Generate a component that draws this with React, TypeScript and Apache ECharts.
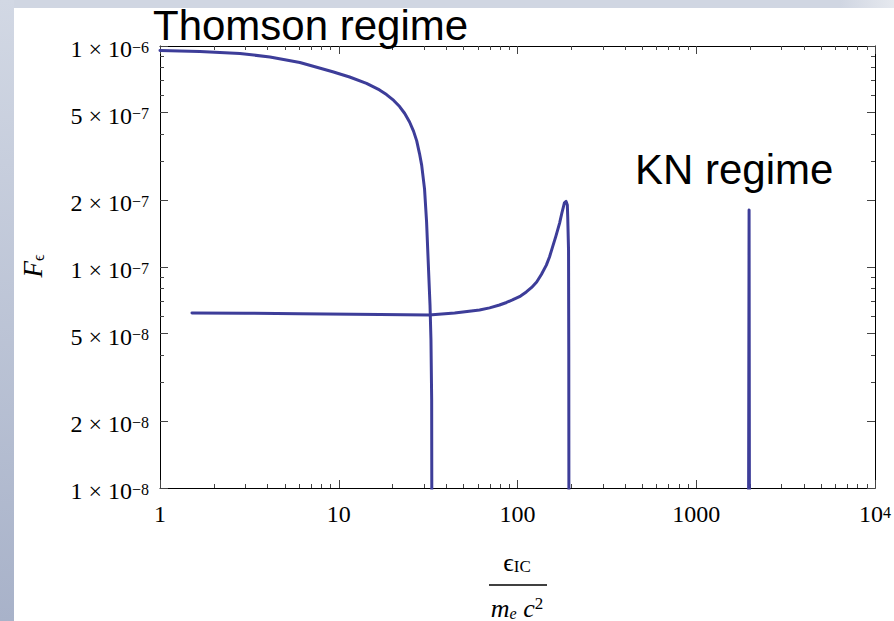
import React, { useEffect, useRef } from 'react';
import * as echarts from 'echarts';

// ---- data ----
const thomsonX = [1, 1.67, 2.8, 4.12, 6.06, 9.25, 11.5, 14.3, 16.9, 18.5, 20.3, 21.9, 23.4, 24.9, 26.2, 27.3, 28.3, 29.1, 30.2, 31.0, 31.8, 32.4, 32.8, 33.1, 33.2];
const thomsonY = [9.54e-7, 9.44e-7, 9.25e-7, 8.92e-7, 8.42e-7, 7.65e-7, 7.24e-7, 6.78e-7, 6.33e-7, 6.03e-7, 5.67e-7, 5.32e-7, 4.95e-7, 4.53e-7, 4.12e-7, 3.72e-7, 3.26e-7, 2.89e-7, 2.25e-7, 1.6e-7, 9.69e-8, 6.73e-8, 4.67e-8, 2.5e-8, 5e-9];

const peakX = [1.51, 3, 6, 17, 32, 44.5, 61.3, 69.8, 79.3, 86.8, 93.7, 104, 112, 120, 128, 136, 145, 151, 157, 164, 172, 177, 183, 187, 190, 191, 193, 193.6, 194];
const peakY = [6.2e-8, 6.18e-8, 6.15e-8, 6.1e-8, 6.07e-8, 6.19e-8, 6.39e-8, 6.53e-8, 6.73e-8, 6.91e-8, 7.1e-8, 7.39e-8, 7.71e-8, 8.08e-8, 8.55e-8, 9.25e-8, 1.02e-7, 1.11e-7, 1.23e-7, 1.38e-7, 1.58e-7, 1.75e-7, 1.95e-7, 1.98e-7, 1.91e-7, 1.68e-7, 1.19e-7, 4.2e-8, 5e-9];

const knX = [1960, 1975, 1985];
const knY = [5e-9, 1.81e-7, 5e-9];

const xTickValues = [1, 10, 100, 1000, 10000];
const xTickLabels = ['{b|1}', '{b|10}', '{b|100}', '{b|1000}', '{b|10}{s|4}'];
const xMinorTicks = [2, 3, 4, 5, 6, 7, 8, 9, 20, 30, 40, 50, 60, 70, 80, 90, 200, 300, 400, 500, 600, 700, 800, 900, 2000, 3000, 4000, 5000, 6000, 7000, 8000, 9000];

const yTickValues = [1e-8, 2e-8, 5e-8, 1e-7, 2e-7, 5e-7, 1e-6];
const yTickLabels = ['{b|1 × 10}{s|−8}', '{b|2 × 10}{s|−8}', '{b|5 × 10}{s|−8}', '{b|1 × 10}{s|−7}', '{b|2 × 10}{s|−7}', '{b|5 × 10}{s|−7}', '{b|1 × 10}{s|−6}'];
const yMinorTicks = [3e-8, 4e-8, 6e-8, 7e-8, 8e-8, 9e-8, 3e-7, 4e-7, 6e-7, 7e-7, 8e-7, 9e-7];

const SERIF = "'Liberation Serif', 'DejaVu Serif', serif";
const SANS = "'Liberation Sans', Arial, sans-serif";
const LINE_COLOR = '#3d3d99';

const pick = (values: number[], labels: string[]) => (v: number) => {
  let best = 0;
  let bd = Infinity;
  values.forEach((t, i) => {
    const d = Math.abs(Math.log10(t) - Math.log10(v));
    if (d < bd) { bd = d; best = i; }
  });
  return labels[best];
};

const tickRich = {
  b: { fontFamily: SERIF, fontSize: 24, color: '#000', lineHeight: 26, padding: [6, 0, 0, 0] },
  s: { fontFamily: SERIF, fontSize: 16, color: '#000', lineHeight: 16, padding: [6, 0, 0, 0], verticalAlign: 'top' },
};

function makeAxis(kind: 'x' | 'y', position: string, major: boolean, line: boolean, labels: boolean) {
  const isX = kind === 'x';
  const min = isX ? 1 : 1e-8;
  const max = isX ? 10000 : 1e-6;
  const vals = isX ? xTickValues : yTickValues;
  const minor = isX ? xMinorTicks : yMinorTicks;
  return {
    type: 'log',
    logBase: 10,
    min,
    max,
    position,
    gridIndex: 0,
    axisLine: { show: line, onZero: false, lineStyle: { color: '#000', width: 1 } },
    axisTick: {
      show: true,
      inside: true,
      length: major ? 8 : 4,
      customValues: major ? vals : minor,
      lineStyle: { color: '#444', width: 1 },
    },
    axisLabel: labels
      ? {
          show: true,
          customValues: vals,
          margin: isX ? 10 : 11,
          formatter: pick(vals, isX ? xTickLabels : yTickLabels),
          rich: tickRich,
          showMinLabel: true,
          showMaxLabel: true,
        }
      : { show: false },
    splitLine: { show: false },
    minorTick: { show: false },
    minorSplitLine: { show: false },
  };
}

const zip = (xs: number[], ys: number[]) => xs.map((x, i) => [x, ys[i]]);

export default function App() {
  const ref = useRef<HTMLDivElement>(null);
  useEffect(() => {
    document.body.style.margin = '0';
    const chart = echarts.init(ref.current!, null, { renderer: 'svg' });
    const lineSeries = (name: string, data: number[][]) => ({
      name,
      type: 'line',
      xAxisIndex: 0,
      yAxisIndex: 0,
      data,
      showSymbol: false,
      symbol: 'none',
      clip: true,
      lineStyle: { color: LINE_COLOR, width: 3, join: 'round', cap: 'round' },
      itemStyle: { color: LINE_COLOR },
      z: 5,
    });
    chart.setOption({
      animation: false,
      backgroundColor: '#fff',
      grid: { left: 160, top: 46, right: 18, bottom: 133, containLabel: false },
      xAxis: [
        makeAxis('x', 'bottom', true, true, true),
        makeAxis('x', 'bottom', false, false, false),
        makeAxis('x', 'top', true, true, false),
        makeAxis('x', 'top', false, false, false),
      ],
      yAxis: [
        makeAxis('y', 'left', true, true, true),
        makeAxis('y', 'left', false, false, false),
        makeAxis('y', 'right', true, true, false),
        makeAxis('y', 'right', false, false, false),
      ],
      series: [
        lineSeries('Thomson', zip(thomsonX, thomsonY)),
        lineSeries('Peak', zip(peakX, peakY)),
        lineSeries('KN', zip(knX, knY)),
      ],
      graphic: [
        {
          type: 'rect', z: 0, shape: { x: 0, y: 0, width: 894, height: 8 },
          style: {
            fill: new echarts.graphic.LinearGradient(0, 0, 1, 0, [
              { offset: 0, color: '#d0d6e2' },
              { offset: 0.94, color: '#d0d6e2' },
              { offset: 1, color: '#e6e9ef' },
            ]),
          },
        },
        {
          type: 'rect', z: 0, shape: { x: 0, y: 0, width: 14, height: 621 },
          style: {
            fill: new echarts.graphic.LinearGradient(0, 0, 0, 1, [
              { offset: 0, color: '#d2d8e4' },
              { offset: 1, color: '#a8b2c9' },
            ]),
          },
        },
        {
          type: 'text', z: 100, x: 153, y: 25,
          style: { text: 'Thomson regime', font: `42px ${SANS}`, fill: '#000', align: 'left', verticalAlign: 'middle' },
        },
        {
          type: 'text', z: 100, x: 635, y: 169,
          style: { text: 'KN regime', font: `42px ${SANS}`, fill: '#000', align: 'left', verticalAlign: 'middle' },
        },
        {
          type: 'text', z: 100, x: 33, y: 266, rotation: Math.PI / 2,
          style: {
            text: '{f|F}{e|ϵ}',
            align: 'center',
            verticalAlign: 'middle',
            rich: {
              f: { fontFamily: SERIF, fontStyle: 'italic', fontSize: 27, lineHeight: 27, color: '#000' },
              e: { fontFamily: SERIF, fontSize: 16, lineHeight: 16, color: '#000', verticalAlign: 'bottom' },
            },
          },
        },
        {
          type: 'text', z: 100, x: 517, y: 562,
          style: {
            text: '{e|ϵ}{s|IC}',
            align: 'center',
            verticalAlign: 'middle',
            rich: {
              e: { fontFamily: SERIF, fontSize: 26, lineHeight: 26, color: '#000' },
              s: { fontFamily: SERIF, fontSize: 17, lineHeight: 17, color: '#000', verticalAlign: 'bottom' },
            },
          },
        },
        {
          type: 'line', z: 100, shape: { x1: 489, y1: 585, x2: 547, y2: 585 },
          style: { stroke: '#000', lineWidth: 1.5 },
        },
        {
          type: 'text', z: 100, x: 517, y: 608,
          style: {
            text: '{m|m}{u|e}{m| c}{p|2}',
            align: 'center',
            verticalAlign: 'middle',
            rich: {
              m: { fontFamily: SERIF, fontStyle: 'italic', fontSize: 26, lineHeight: 26, color: '#000' },
              u: { fontFamily: SERIF, fontStyle: 'italic', fontSize: 16, lineHeight: 16, color: '#000', verticalAlign: 'bottom' },
              p: { fontFamily: SERIF, fontSize: 17, lineHeight: 17, color: '#000', verticalAlign: 'top' },
            },
          },
        },
      ],
    });
    return () => chart.dispose();
  }, []);
  return <div ref={ref} style={{ width: 894, height: 621 }} />;
}
